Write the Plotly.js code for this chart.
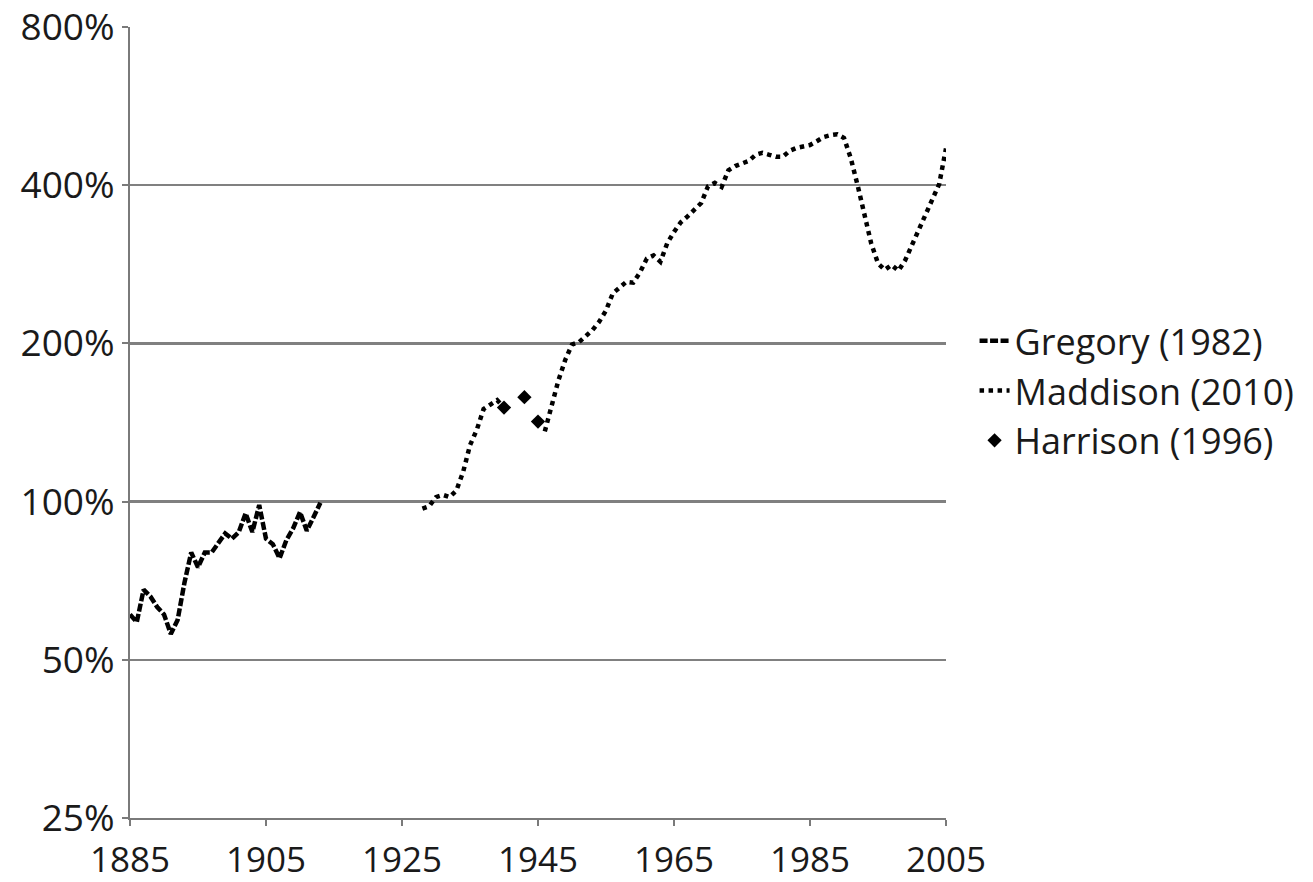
<!DOCTYPE html>
<html>
<head>
<meta charset="utf-8">
<script src="https://cdn.plot.ly/plotly-3.0.1.min.js"></script>
<style>
  html, body { margin: 0; padding: 0; background: #ffffff; }
  #chart { width: 1313px; height: 882px; }
</style>
</head>
<body>
<div id="chart"></div>
<script>
// ---- Data (percent) ----
const gregoryYears = [1885, 1886, 1887, 1888, 1889, 1890, 1891, 1892, 1893, 1894,
  1895, 1896, 1897, 1898, 1899, 1900, 1901, 1902, 1903, 1904,
  1905, 1906, 1907, 1908, 1909, 1910, 1911, 1912, 1913];
const gregoryValues = [61, 59, 68, 66, 63, 61, 56, 59.5, 70, 80,
  75, 80, 80, 83.5, 87, 85, 87.5, 95, 87.5, 98.5,
  85, 83, 78, 84.5, 89, 95.5, 88, 93.5, 99.5];

const maddisonYears = [1928, 1929, 1930, 1931, 1932, 1933, 1934, 1935, 1936, 1937,
  1938, 1939, 1940, 1941, 1942, 1943, 1944, 1945,
  1946, 1947, 1948, 1949, 1950, 1951, 1952, 1953, 1954, 1955,
  1956, 1957, 1958, 1959, 1960, 1961, 1962, 1963, 1964, 1965,
  1966, 1967, 1968, 1969, 1970, 1971, 1972, 1973, 1974, 1975,
  1976, 1977, 1978, 1979, 1980, 1981, 1982, 1983, 1984, 1985,
  1986, 1987, 1988, 1989, 1990, 1991, 1992, 1993, 1994, 1995,
  1996, 1997, 1998, 1999, 2000, 2001, 2002, 2003, 2004, 2005];
const maddisonValues = [97, 98, 102, 103, 102, 105, 114, 128, 137, 150,
  153, 156, 151, null, null, null, null, null,
  136, 152, 170, 186, 199, 201, 207, 212, 220, 231,
  249, 255, 262, 261, 273, 290, 294, 286, 310, 326,
  340, 349, 359, 370, 398, 404, 397, 427, 435, 441,
  445, 457, 461, 457, 453, 453, 465, 471, 473, 477,
  485, 494, 498, 500, 492, 450, 400, 354, 310, 284,
  276, 282, 275, 288, 308, 330, 352, 378, 402, 470];

const harrisonYears = [1940, 1943, 1945];
const harrisonValues = [151, 158, 142];

const yTickVals = [25, 50, 100, 200, 400, 800];
const yTickText = ['25%', '50%', '100%', '200%', '400%', '800%'];
const xTickVals = [1885, 1905, 1925, 1945, 1965, 1985, 2005];

const FONT = 'Open Sans, Noto Sans, sans-serif';

const traces = [
  {
    name: 'Gregory (1982)', x: gregoryYears, y: gregoryValues,
    type: 'scatter', mode: 'lines',
    line: { color: '#000000', width: 4.5, dash: '8px,2.5px' }
  },
  {
    name: 'Maddison (2010)', x: maddisonYears, y: maddisonValues,
    type: 'scatter', mode: 'lines', connectgaps: false,
    line: { color: '#000000', width: 4.5, dash: 'dot' }
  },
  {
    name: 'Harrison (1996)', x: harrisonYears, y: harrisonValues,
    type: 'scatter', mode: 'markers',
    marker: { symbol: 'diamond', size: 11, color: '#000000' }
  }
];

const layout = {
  width: 1313, height: 882,
  margin: { l: 130, r: 367, t: 27, b: 64, autoexpand: false },
  paper_bgcolor: '#ffffff', plot_bgcolor: '#ffffff',
  font: { family: FONT, size: 35, color: '#1a1a1a' },
  showlegend: true,
  legend: {
    x: 1.035, xanchor: 'left', y: 0.54, yanchor: 'middle',
    font: { family: FONT, size: 36, color: '#1a1a1a' },
    tracegroupgap: 0, itemwidth: 30, bgcolor: 'rgba(0,0,0,0)'
  },
  xaxis: {
    range: [1885, 2005], tickvals: xTickVals, ticktext: xTickVals.map(String),
    showgrid: false, zeroline: false,
    showline: true, linecolor: '#7a7a7a', linewidth: 2,
    ticks: 'outside', ticklen: 6, tickwidth: 2, tickcolor: '#7a7a7a',
    ticklabelstandoff: 4,
    automargin: false, ticklabeloverflow: 'allow',
    tickfont: { family: FONT, size: 35, color: '#1a1a1a' }
  },
  yaxis: {
    type: 'log', range: [Math.log10(25), Math.log10(800)],
    tickvals: yTickVals, ticktext: yTickText,
    showgrid: true, gridcolor: '#808080', gridwidth: 2.5,
    zeroline: false,
    showline: true, linecolor: '#7a7a7a', linewidth: 2,
    ticks: 'outside', ticklen: 6, tickwidth: 2, tickcolor: '#7a7a7a',
    automargin: false, ticklabeloverflow: 'allow',
    tickfont: { family: FONT, size: 37, color: '#1a1a1a' }
  }
};

Plotly.newPlot('chart', traces, layout, { displayModeBar: false, staticPlot: true });
</script>
</body>
</html>
